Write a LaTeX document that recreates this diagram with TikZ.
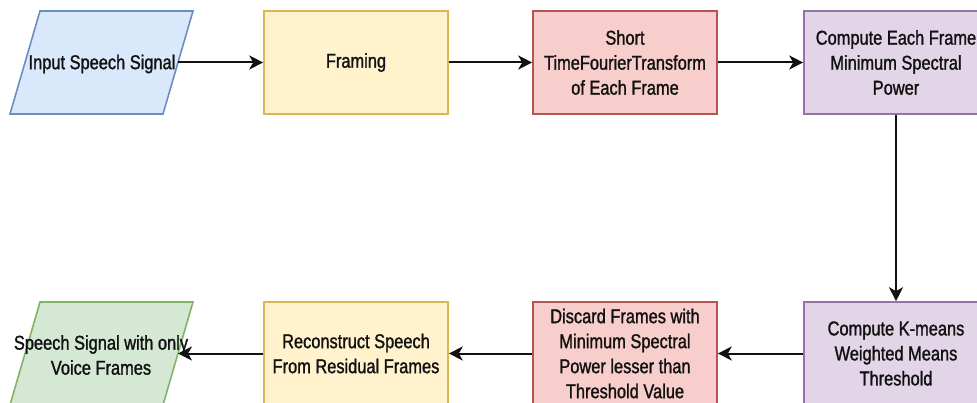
\documentclass[tikz,border=0pt]{standalone}
\usepackage{fontspec}
\setmainfont[FakeStretch=0.82,FakeBold=1.3]{Liberation Sans}
\usetikzlibrary{arrows.meta}

% draw.io palette
\definecolor{blueF}{HTML}{DAE8FC}\definecolor{blueS}{HTML}{6C8EBF}
\definecolor{yelF}{HTML}{FFF2CC}\definecolor{yelS}{HTML}{D6B656}
\definecolor{redF}{HTML}{F8CECC}\definecolor{redS}{HTML}{B85450}
\definecolor{purF}{HTML}{E1D5E7}\definecolor{purS}{HTML}{9673A6}
\definecolor{grnF}{HTML}{D5E8D4}\definecolor{grnS}{HTML}{82B366}
\definecolor{ink}{HTML}{111111}

\tikzset{
  label font/.style={font=\fontsize{20}{25}\selectfont, text=ink},
  stepbox/.style={rectangle, draw, line width=1.6pt, minimum width=184pt,
    minimum height=103pt, inner sep=0pt, align=center, label font},
  ioshape/.style={line width=1.6pt, line join=miter},
  iotext/.style={align=center, inner sep=0pt, label font},
  flow/.style={draw=ink, line width=2pt,
    -{Stealth[length=14pt,width=14pt,inset=4pt]}},
}

\begin{document}
\begin{tikzpicture}[x=1pt,y=-1pt]
\useasboundingbox (0,0) rectangle (977,403);
\clip (0,0) rectangle (977,403);

% input / output parallelograms
\draw[ioshape, draw=blueS, fill=blueF]
  (10,114) -- (40,11) -- (193,11) -- (163,114) -- cycle;
\node[iotext] (in1) at (102,64) {Input Speech Signal};
\coordinate (in1-e) at (178,62.5);

\draw[ioshape, draw=grnS, fill=grnF]
  (10,405) -- (40,302) -- (193,302) -- (163,405) -- cycle;
\node[iotext] (out) at (101,355) {Speech Signal with only\\Voice Frames};
\coordinate (out-e) at (178,353.5);

% process steps, top row
\node[stepbox, draw=yelS, fill=yelF] (frm) at (356,62.5)
  {\raisebox{-1.5pt}{Framing}};
\node[stepbox, draw=redS, fill=redF] (stft) at (625,62.5)
  {Short\\TimeFourierTransform\\of Each Frame};
\node[stepbox, draw=purS, fill=purF] (minpow) at (896,62.5)
  {Compute Each Frame\\Minimum Spectral\\Power};

% process steps, bottom row
\node[stepbox, draw=purS, fill=purF] (kmeans) at (896,353.5)
  {Compute K-means\\Weighted Means\\Threshold};
\node[stepbox, draw=redS, fill=redF] (discard) at (625,353.5)
  {Discard Frames with\\Minimum Spectral\\Power lesser than\\Threshold Value};
\node[stepbox, draw=yelS, fill=yelF] (recon) at (356,353.5)
  {Reconstruct Speech\\From Residual Frames};

% connectors
\draw[flow] (in1-e) -- (frm.west);
\draw[flow] (frm.east) -- (stft.west);
\draw[flow] (stft.east) -- (minpow.west);
\draw[flow] (minpow.south) -- (kmeans.north);
\draw[flow] (kmeans.west) -- (discard.east);
\draw[flow] (discard.west) -- (recon.east);
\draw[flow] (recon.west) -- (out-e);
\end{tikzpicture}
\end{document}
